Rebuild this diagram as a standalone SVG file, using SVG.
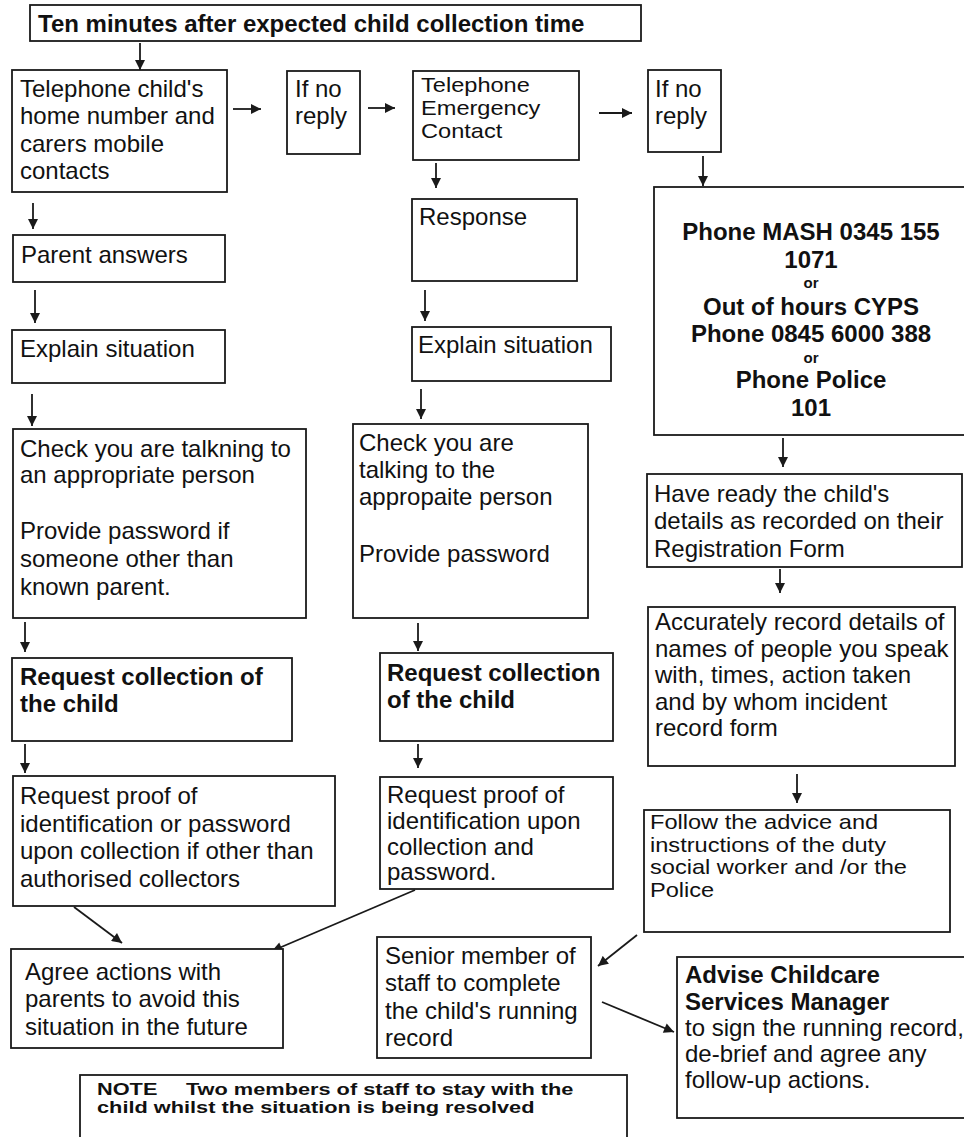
<svg xmlns="http://www.w3.org/2000/svg" width="964" height="1137" viewBox="0 0 964 1137">
<style>
.bx{fill:#fff;stroke:#1a1a1a;stroke-width:1.8}
.t{font-family:"Liberation Sans",Arial,sans-serif;font-size:24px;fill:#111}
.tb{font-family:"Liberation Sans",Arial,sans-serif;font-size:24px;font-weight:bold;fill:#111}
.ts{font-family:"Liberation Sans",Arial,sans-serif;font-size:15px;font-weight:bold;fill:#111}
.tn{font-family:"Liberation Sans",Arial,sans-serif;font-size:20px;fill:#111}
.c{stroke:#1a1a1a;stroke-width:1.8;fill:none;marker-end:url(#ah)}
</style>
<defs>
<marker id="ah" viewBox="0 0 10 10" refX="10" refY="5" markerWidth="11" markerHeight="10" markerUnits="userSpaceOnUse" orient="auto">
<path d="M0,0 L10,5 L0,10 z" fill="#1a1a1a"/>
</marker>
</defs>
<rect width="964" height="1137" fill="#fff"/>

<g id="connectors">
<line class="c" x1="140" y1="43" x2="140" y2="70"/>
<line class="c" x1="233" y1="109" x2="261" y2="109"/>
<line class="c" x1="368" y1="108" x2="395" y2="108"/>
<line class="c" x1="599" y1="113" x2="632" y2="113"/>
<line class="c" x1="703" y1="156" x2="703" y2="186"/>
<line class="c" x1="33" y1="203" x2="33" y2="229"/>
<line class="c" x1="35" y1="290" x2="35" y2="323"/>
<line class="c" x1="32" y1="394" x2="32" y2="426"/>
<line class="c" x1="25" y1="622" x2="25" y2="652"/>
<line class="c" x1="25" y1="744" x2="25" y2="773"/>
<line class="c" x1="74" y1="907" x2="122" y2="943"/>
<line class="c" x1="436" y1="163" x2="436" y2="188"/>
<line class="c" x1="425" y1="290" x2="425" y2="321"/>
<line class="c" x1="421" y1="389" x2="421" y2="419"/>
<line class="c" x1="418" y1="623" x2="418" y2="651"/>
<line class="c" x1="418" y1="744" x2="418" y2="768"/>
<line class="c" x1="415" y1="890" x2="272" y2="951"/>
<line class="c" x1="783" y1="438" x2="783" y2="467"/>
<line class="c" x1="780" y1="569" x2="780" y2="593"/>
<line class="c" x1="797" y1="774" x2="797" y2="803"/>
<line class="c" x1="637" y1="935" x2="598" y2="966"/>
<line class="c" x1="602" y1="1002" x2="674" y2="1032"/>
</g>

<g id="title">
<rect class="bx" x="30" y="5" width="611" height="36"/>
<text class="tb" x="38" y="32">Ten minutes after expected child collection time</text>
</g>

<g id="tel-home">
<rect class="bx" x="12" y="70" width="215" height="122"/>
<text class="t" x="20" y="97">Telephone child's</text>
<text class="t" x="20" y="124">home number and</text>
<text class="t" x="20" y="152">carers mobile</text>
<text class="t" x="20" y="179">contacts</text>
</g>

<g id="no-reply-1">
<rect class="bx" x="287" y="71" width="73" height="83"/>
<text class="t" x="295" y="97">If no</text>
<text class="t" x="295" y="124">reply</text>
</g>

<g id="tel-emergency">
<rect class="bx" x="413" y="71" width="166" height="89"/>
<text class="tn" transform="translate(421,92) scale(1.18,1)">Telephone</text>
<text class="tn" transform="translate(421,115) scale(1.18,1)">Emergency</text>
<text class="tn" transform="translate(421,138) scale(1.18,1)">Contact</text>
</g>

<g id="no-reply-2">
<rect class="bx" x="648" y="70" width="73" height="82"/>
<text class="t" x="655" y="97">If no</text>
<text class="t" x="655" y="124">reply</text>
</g>

<g id="mash">
<rect class="bx" x="654" y="187" width="312" height="248"/>
<text class="tb" x="811" y="240" text-anchor="middle">Phone MASH 0345 155</text>
<text class="tb" x="811" y="268" text-anchor="middle">1071</text>
<text class="ts" x="811" y="288" text-anchor="middle">or</text>
<text class="tb" x="811" y="315" text-anchor="middle">Out of hours CYPS</text>
<text class="tb" x="811" y="342" text-anchor="middle">Phone 0845 6000 388</text>
<text class="ts" x="811" y="363" text-anchor="middle">or</text>
<text class="tb" x="811" y="388" text-anchor="middle">Phone Police</text>
<text class="tb" x="811" y="416" text-anchor="middle">101</text>
</g>

<g id="parent-answers">
<rect class="bx" x="13" y="235" width="212" height="47"/>
<text class="t" x="21" y="263">Parent answers</text>
</g>

<g id="response">
<rect class="bx" x="412" y="199" width="165" height="82"/>
<text class="t" x="419" y="225">Response</text>
</g>

<g id="explain-left">
<rect class="bx" x="12" y="330" width="213" height="53"/>
<text class="t" x="20" y="357">Explain situation</text>
</g>

<g id="explain-mid">
<rect class="bx" x="412" y="327" width="199" height="54"/>
<text class="t" x="418" y="353">Explain situation</text>
</g>

<g id="check-left">
<rect class="bx" x="13" y="429" width="293" height="189"/>
<text class="t" x="20" y="457">Check you are talkning to</text>
<text class="t" x="20" y="483">an appropriate person</text>
<text class="t" x="20" y="539">Provide password if</text>
<text class="t" x="20" y="567">someone other than</text>
<text class="t" x="20" y="595">known parent.</text>
</g>

<g id="check-mid">
<rect class="bx" x="353" y="424" width="235" height="194"/>
<text class="t" x="359" y="451">Check you are</text>
<text class="t" x="359" y="478">talking to the</text>
<text class="t" x="359" y="505">appropaite person</text>
<text class="t" x="359" y="562">Provide password</text>
</g>

<g id="have-ready">
<rect class="bx" x="647" y="474" width="315" height="93"/>
<text class="t" x="654" y="502">Have ready the child's</text>
<text class="t" x="654" y="529">details as recorded on their</text>
<text class="t" x="654" y="557">Registration Form</text>
</g>

<g id="accurately">
<rect class="bx" x="648" y="607" width="307" height="159"/>
<text class="t" x="655" y="630">Accurately record details of</text>
<text class="t" x="655" y="657">names of people you speak</text>
<text class="t" x="655" y="683">with, times, action taken</text>
<text class="t" x="655" y="710">and by whom  incident</text>
<text class="t" x="655" y="736">record form</text>
</g>

<g id="request-left">
<rect class="bx" x="12" y="658" width="280" height="83"/>
<text class="tb" x="20" y="685">Request collection of</text>
<text class="tb" x="20" y="712">the child</text>
</g>

<g id="request-mid">
<rect class="bx" x="380" y="653" width="233" height="88"/>
<text class="tb" x="387" y="681">Request collection</text>
<text class="tb" x="387" y="708">of the child</text>
</g>

<g id="proof-left">
<rect class="bx" x="13" y="776" width="322" height="130"/>
<text class="t" x="20" y="804">Request proof of</text>
<text class="t" x="20" y="832">identification or password</text>
<text class="t" x="20" y="859">upon collection if other than</text>
<text class="t" x="20" y="887">authorised collectors</text>
</g>

<g id="proof-mid">
<rect class="bx" x="380" y="777" width="233" height="112"/>
<text class="t" x="387" y="803">Request proof of</text>
<text class="t" x="387" y="829">identification upon</text>
<text class="t" x="387" y="855">collection and</text>
<text class="t" x="387" y="880">password.</text>
</g>

<g id="follow">
<rect class="bx" x="644" y="810" width="306" height="122"/>
<text class="tn" transform="translate(650,829) scale(1.18,1)">Follow the advice and</text>
<text class="tn" transform="translate(650,851.5) scale(1.18,1)">instructions of the duty</text>
<text class="tn" transform="translate(650,874) scale(1.18,1)">social worker and /or the</text>
<text class="tn" transform="translate(650,896.5) scale(1.18,1)">Police</text>
</g>

<g id="agree">
<rect class="bx" x="11" y="949" width="272" height="99"/>
<text class="t" x="25" y="980">Agree actions with</text>
<text class="t" x="25" y="1007">parents to avoid this</text>
<text class="t" x="25" y="1035">situation in the future</text>
</g>

<g id="senior">
<rect class="bx" x="377" y="937" width="214" height="121"/>
<text class="t" x="385" y="964">Senior member of</text>
<text class="t" x="385" y="991">staff to complete</text>
<text class="t" x="385" y="1019">the child's running</text>
<text class="t" x="385" y="1046">record</text>
</g>

<g id="advise">
<rect class="bx" x="677" y="957" width="292" height="161"/>
<text class="tb" x="685" y="983">Advise Childcare</text>
<text class="tb" x="685" y="1010">Services Manager</text>
<text class="t" x="685" y="1036">to sign the running record,</text>
<text class="t" x="685" y="1062">de-brief and agree any</text>
<text class="t" x="685" y="1088">follow-up actions.</text>
</g>

<g id="note">
<rect class="bx" x="80" y="1075" width="547" height="80"/>
<text class="tb" transform="translate(97,1095) scale(1.28,1)" style="font-size:17px"><tspan x="0">NOTE</tspan><tspan x="69.5">Two members of staff to stay with the</tspan></text>
<text class="tb" transform="translate(97,1113) scale(1.28,1)" style="font-size:17px">child whilst the situation  is being resolved</text>
</g>
</svg>
